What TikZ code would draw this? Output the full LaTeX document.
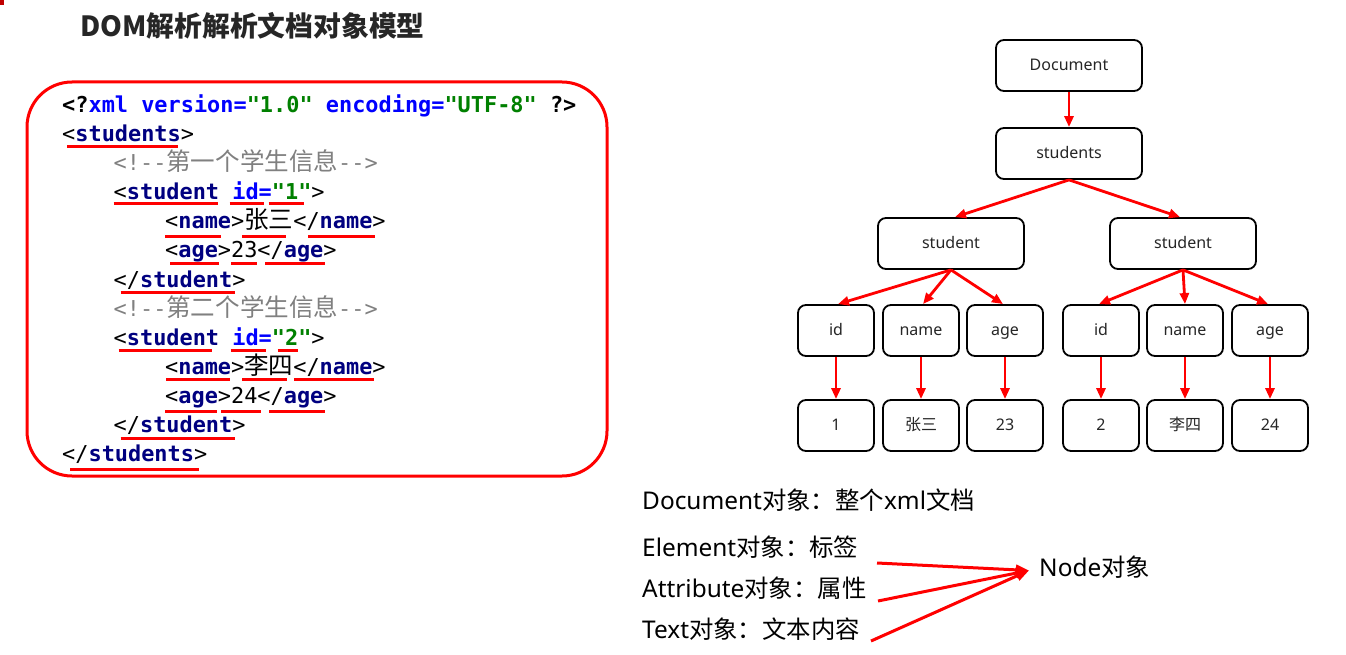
\documentclass[tikz,border=0pt]{standalone}
\usepackage{fontspec}
\setmainfont{Noto Sans}
\setmonofont{DejaVu Sans Mono}
\newfontfamily\cjk{Noto Sans CJK SC}
\newfontfamily\xcj{Noto Sans CJK SC}[Scale=1.12]
\usetikzlibrary{arrows.meta,calc}
\definecolor{xblue}{HTML}{0000FF}
\definecolor{xnavy}{HTML}{000080}
\definecolor{xgreen}{HTML}{008000}
\definecolor{xgray}{HTML}{808080}
\definecolor{xred}{HTML}{FF0000}
\definecolor{xdark}{HTML}{C00000}
\newcommand\xtag[1]{\textcolor{xnavy}{\bfseries #1}}
\newcommand\xatt[1]{\textcolor{xblue}{\bfseries #1}}
\newcommand\xval[1]{\textcolor{xgreen}{\bfseries #1}}
\newcommand\ulx[4]{\draw[uline] ($(#1.base west)+(#2,#4)$) -- ($(#1.base west)+(#3,#4)$);}
\begin{document}
\begin{tikzpicture}[x=1pt,y=-1pt,
  code/.style={anchor=base west, inner sep=0pt, font=\ttfamily\fontsize{21.9}{21.9}\selectfont},
  uline/.style={draw=xred, line width=3pt},
  tbox/.style={draw=black, line width=1.8pt, rounded corners=8pt, minimum width=146pt, minimum height=51pt, inner sep=0pt, text height=13pt, text depth=3pt, text=black!85, font=\fontsize{16}{16}\selectfont},
  sbox/.style={tbox, minimum width=76pt},
  tarr/.style={draw=xred, line width=2.8pt, -{Triangle[length=11pt,width=9pt]}},
  barr/.style={draw=xred, line width=3pt, -{Triangle[length=13pt,width=10pt]}},
  btext/.style={anchor=base west, inner sep=0pt, font=\fontsize{24.4}{24.4}\selectfont, text=black}
]
\useasboundingbox (0,0) rectangle (1346,655);
\fill[white] (0,0) rectangle (1346,655);
\fill[xdark] (0,0) rectangle (4,5);

% title
\node[anchor=west, inner sep=0pt, font=\cjk\bfseries\fontsize{27.8}{27.8}\selectfont, text=black!85] (title) at (80,26) {DOM解析解析文档对象模型};

% code box
\draw[xred, line width=3pt, rounded corners=45pt] (27,82) rectangle (607,476);

\node[code] (l1) at (62,112.5) {\bfseries <?\textcolor{xblue}{xml version=}\textcolor{xgreen}{"1.0"} \textcolor{xblue}{encoding=}\textcolor{xgreen}{"UTF-8"} ?>};
\node[code] (l2) at (62,141.6) {<\xtag{students}>};
\node[code] (l3) at (113.5,170.7) {\textcolor{xgray}{<!--{\xcj 第一个学生信息}-->}};
\node[code] (l4) at (113.5,199.7) {<\xtag{student} \xatt{id=}\xval{"1"}>};
\node[code] (l5) at (165,228.8) {<\xtag{name}>{\xcj 张三}</\xtag{name}>};
\node[code] (l6) at (165,257.9) {<\xtag{age}>23</\xtag{age}>};
\node[code] (l7) at (113.5,287) {</\xtag{student}>};
\node[code] (l8) at (113.5,316.1) {\textcolor{xgray}{<!--{\xcj 第二个学生信息}-->}};
\node[code] (l9) at (113.5,345.1) {<\xtag{student} \xatt{id=}\xval{"2"}>};
\node[code] (l10) at (165,374.2) {<\xtag{name}>{\xcj 李四}</\xtag{name}>};
\node[code] (l11) at (165,403.3) {<\xtag{age}>24</\xtag{age}>};
\node[code] (l12) at (113.5,432.4) {</\xtag{student}>};
\node[code] (l13) at (62,461.5) {</\xtag{students}>};

% underlines
\ulx{l2}{5}{116}{5}
\ulx{l4}{0}{104}{4}\ulx{l4}{116}{150}{4}\ulx{l4}{155}{190}{4}
\ulx{l5}{0}{56}{8}\ulx{l5}{77}{121}{8}\ulx{l5}{143}{210}{8}
\ulx{l6}{5}{54}{6}\ulx{l6}{66}{92}{6}\ulx{l6}{100}{160}{6}
\ulx{l7}{7}{121}{5}
\ulx{l9}{5}{98}{5}\ulx{l9}{117}{152}{5}\ulx{l9}{164}{184}{5}
\ulx{l10}{1}{65}{5}\ulx{l10}{77}{122}{5}\ulx{l10}{129}{209}{5}
\ulx{l11}{0}{52}{8}\ulx{l11}{56}{96}{8}\ulx{l11}{104}{160}{8}
\ulx{l12}{7}{121}{6}
\ulx{l13}{8}{137}{8}

% tree
\node[tbox] (doc) at (1069,65.5) {Document};
\node[tbox] (stus) at (1069,153.5) {students};
\node[tbox] (st1) at (951,243.5) {student};
\node[tbox] (st2) at (1183,243.5) {student};
\node[sbox] (id1) at (836,330.5) {id};
\node[sbox] (nm1) at (921,330.5) {name};
\node[sbox] (ag1) at (1005,330.5) {age};
\node[sbox] (id2) at (1101,330.5) {id};
\node[sbox] (nm2) at (1185,330.5) {name};
\node[sbox] (ag2) at (1270,330.5) {age};
\node[sbox] (v1) at (836,425.5) {1};
\node[sbox] (v2) at (921,425.5) {\cjk 张三};
\node[sbox] (v3) at (1005,425.5) {23};
\node[sbox] (v4) at (1101,425.5) {2};
\node[sbox] (v5) at (1185,425.5) {\cjk 李四};
\node[sbox] (v6) at (1270,425.5) {24};

\draw[tarr] (doc.south) -- (stus.north);
\draw[tarr] (stus.south) -- ([xshift=4pt]st1.north);
\draw[tarr] (stus.south) -- ([xshift=-3pt]st2.north);
\draw[tarr] (st1.south) -- ([xshift=2pt]id1.north);
\draw[tarr] (st1.south) -- ([xshift=2pt]nm1.north);
\draw[tarr] (st1.south) -- ([xshift=-2pt]ag1.north);
\draw[tarr] (st2.south) -- ([xshift=-2pt]id2.north);
\draw[tarr] (st2.south) -- (nm2.north);
\draw[tarr] (st2.south) -- ([xshift=-2pt]ag2.north);
\draw[tarr] (id1) -- (v1);
\draw[tarr] (nm1) -- (v2);
\draw[tarr] (ag1) -- (v3);
\draw[tarr] (id2) -- (v4);
\draw[tarr] (nm2) -- (v5);
\draw[tarr] (ag2) -- (v6);

% bottom text
\node[btext] (tdoc) at (642,509.5) {Document{\cjk 对象：整个}xml{\cjk 文档}};
\node[btext] (tel) at (642,556.5) {Element{\cjk 对象：标签}};
\node[btext] (tat) at (642,597.5) {Attribute{\cjk 对象：属性}};
\node[btext] (ttx) at (642,638.5) {Text{\cjk 对象：文本内容}};
\node[btext] (nd) at (1039,576.5) {Node{\cjk 对象}};
\coordinate (tip) at ($(nd.base west)+(-10,-6)$);
\coordinate (sel) at (877,563);
\coordinate (sat) at (878,601);
\coordinate (stx) at (871,641);
\draw[barr] (sel) -- (tip);
\draw[barr] (sat) -- (tip);
\draw[barr] (stx) -- (tip);
\end{tikzpicture}
\end{document}
